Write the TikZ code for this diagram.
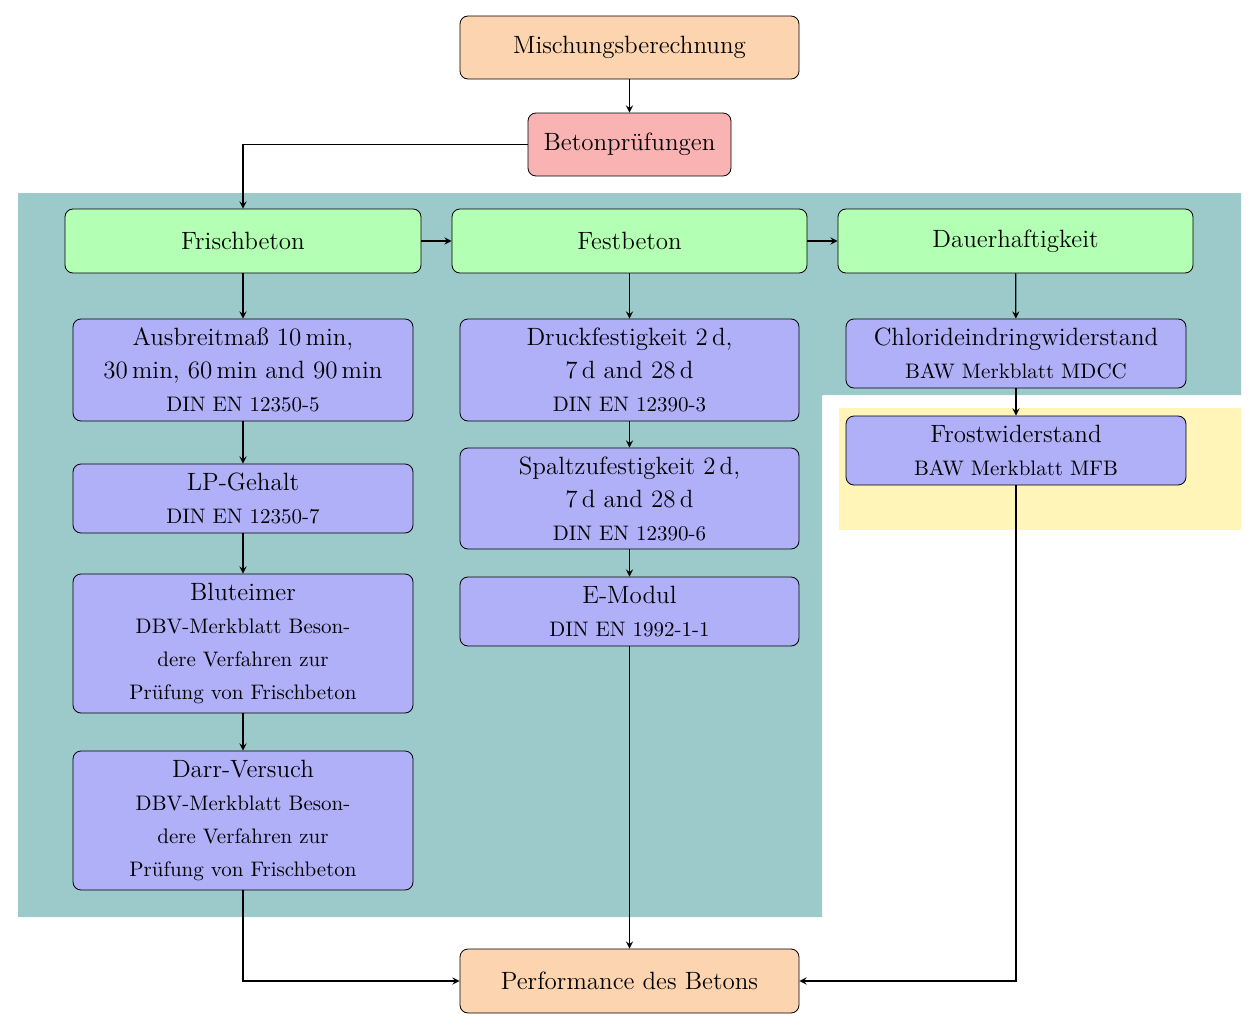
\documentclass[tikz,border=0pt]{standalone}
\usepackage{fontspec}
\begin{document}
\begin{tikzpicture}[x=0.5pt,y=-0.5pt,
  bx/.style={draw,rounded corners=4pt,inner sep=0pt,align=center,font=\fontsize{12.5}{16.5}\selectfont},
  sub/.style={},
  arr/.style={->,>=stealth,semithick}]
\definecolor{cor}{RGB}{252,213,176}
\definecolor{cred}{RGB}{249,179,179}
\definecolor{cgr}{RGB}{179,255,179}
\definecolor{cbl}{RGB}{176,176,248}
\definecolor{cteal}{RGB}{156,201,201}
\definecolor{cyel}{RGB}{255,245,185}
\useasboundingbox (0,0) rectangle (1260,1028);
\fill[cteal] (18,193)--(1241,193)--(1241,395)--(822,395)--(822,917)--(18,917)--cycle;
\fill[cyel] (839,408) rectangle (1241,530);
\newcommand{\sm}{\fontsize{10.5}{16.5}\selectfont}
\node[bx,fill=cor,minimum width=169.5pt,minimum height=31.5pt] (m) at (629.5,47.5) {Mischungsberechnung};
\node[bx,fill=cred,minimum width=101.5pt,minimum height=31.5pt] (b) at (629.5,144.5) {Betonprüfungen};
\node[bx,fill=cgr,minimum width=178pt,minimum height=32pt] (fr) at (243,241) {Frischbeton};
\node[bx,fill=cgr,minimum width=177.5pt,minimum height=32pt] (fe) at (629.5,241) {Festbeton};
\node[bx,fill=cgr,minimum width=177.5pt,minimum height=32pt] (da) at (1015.5,241) {Dauerhaftigkeit};
\node[bx,fill=cbl,minimum width=170pt,minimum height=51pt] (a1) at (243,370) {Ausbreitmaß 10\,min,\\30\,min, 60\,min and 90\,min\\{\sm DIN EN 12350-5}};
\node[bx,fill=cbl,minimum width=170pt,minimum height=34.5pt] (a2) at (243,498.5) {LP-Gehalt\\{\sm DIN EN 12350-7}};
\node[bx,fill=cbl,minimum width=170pt,minimum height=69.5pt] (a3) at (243,643.5) {Bluteimer\\{\sm DBV-Merkblatt Beson-}\\{\sm dere Verfahren zur}\\{\sm Prüfung von Frischbeton}};
\node[bx,fill=cbl,minimum width=170pt,minimum height=69.5pt] (a4) at (243,820.5) {Darr-Versuch\\{\sm DBV-Merkblatt Beson-}\\{\sm dere Verfahren zur}\\{\sm Prüfung von Frischbeton}};
\node[bx,fill=cbl,minimum width=169.5pt,minimum height=51pt] (b1) at (629.5,370) {Druckfestigkeit 2\,d,\\7\,d and 28\,d\\{\sm DIN EN 12390-3}};
\node[bx,fill=cbl,minimum width=169.5pt,minimum height=50.5pt] (b2) at (629.5,498.5) {Spaltzufestigkeit 2\,d,\\7\,d and 28\,d\\{\sm DIN EN 12390-6}};
\node[bx,fill=cbl,minimum width=169.5pt,minimum height=34.5pt] (b3) at (629.5,611.5) {E-Modul\\{\sm DIN EN 1992-1-1}};
\node[bx,fill=cbl,minimum width=170pt,minimum height=34.5pt] (c1) at (1016,353.5) {Chlorideindringwiderstand\\{\sm BAW Merkblatt MDCC}};
\node[bx,fill=cbl,minimum width=170pt,minimum height=34.5pt] (c2) at (1016,450.5) {Frostwiderstand\\{\sm BAW Merkblatt MFB}};
\node[bx,fill=cor,minimum width=169.5pt,minimum height=32pt] (p) at (629.5,981) {Performance des Betons};
\draw[arr] (m)--(b);
\draw[arr] (b.west) -| (fr.north);
\draw[arr] (fr)--(fe); \draw[arr] (fe)--(da);
\draw[arr] (fr)--(a1); \draw[arr] (a1)--(a2); \draw[arr] (a2)--(a3); \draw[arr] (a3)--(a4);
\draw[arr] (fe)--(b1); \draw[arr] (b1)--(b2); \draw[arr] (b2)--(b3);
\draw[arr] (da)--(c1); \draw[arr] (c1)--(c2);
\draw[arr] (a4.south) |- (p.west);
\draw[arr] (b3)--(p);
\draw[arr] (c2.south) |- (p.east);
\end{tikzpicture}
\end{document}
